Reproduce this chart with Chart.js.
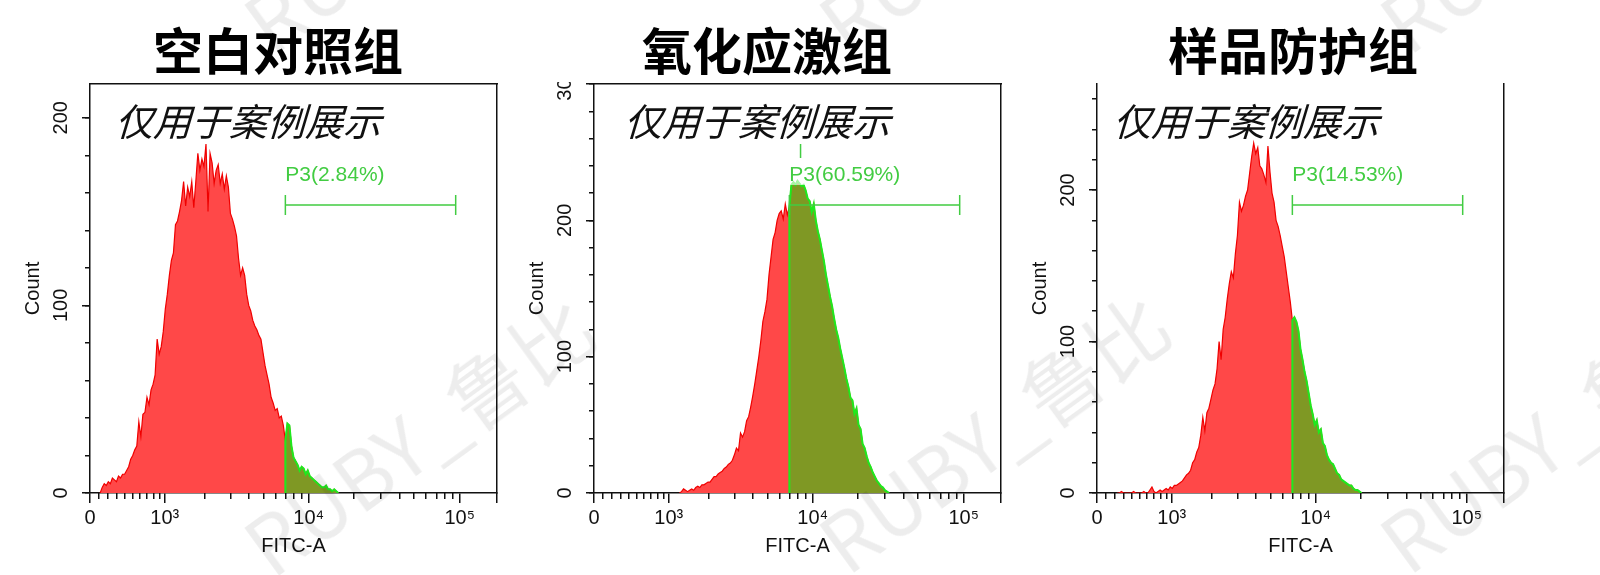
<!DOCTYPE html>
<html>
<head>
<meta charset="utf-8">
<script src="https://cdn.jsdelivr.net/npm/chart.js@4.4.0/dist/chart.umd.min.js"></script>
<style>
  html, body { margin: 0; padding: 0; background: #fff; }
  #stage { position: relative; width: 1600px; height: 575px; overflow: hidden; background: #fff; }
  #stage canvas { position: absolute; top: 0; }
  .wm {
    position: absolute;
    font: 80px/1 "Noto Sans CJK SC", sans-serif;
    color: rgba(0, 0, 0, 0.07);
    transform: rotate(-36deg);
    transform-origin: 0 50%;
    white-space: nowrap;
    pointer-events: none;
  }
</style>
</head>
<body>
<div id="stage">
  <canvas id="c1" width="600" height="575" style="left:0px"></canvas>
  <canvas id="c2" width="600" height="575" style="left:504px"></canvas>
  <canvas id="c3" width="600" height="575" style="left:1007px"></canvas>
  <div class="wm" style="left:252px;top:512px">RUBY_鲁比</div>
  <div class="wm" style="left:827px;top:509px">RUBY_鲁比</div>
  <div class="wm" style="left:1388px;top:509px">RUBY_鲁比</div>
  <div class="wm" style="left:252px;top:-11px">RUBY_鲁比</div>
  <div class="wm" style="left:827px;top:-11px">RUBY_鲁比</div>
  <div class="wm" style="left:1388px;top:-11px">RUBY_鲁比</div>
</div>
<script>
// FITC-A histograms, counts per display channel (200 channels across the axis)
const CHANNELS = 200;
const GATE_START = 96;     // P3 gate, display channels
const GATE_END = 179.7;

const blankStart = 5;
const blankCounts = [
  0, 3, 5, 4, 6, 5, 8, 7, 6, 9, 8, 10, 10, 12, 14, 18, 20, 23, 25, 38,
  30, 42, 43, 51, 47, 55, 58, 63, 82, 74, 78, 86, 98, 106, 116, 124, 128, 143, 145, 150,
  156, 166, 153, 163, 158, 166, 152, 166, 181, 172, 178, 174, 186, 150, 181, 176, 165, 172, 175, 165,
  170, 162, 169, 163, 149, 146, 142, 137, 125, 116, 120, 116, 106, 100, 97, 92, 89, 87, 84, 82,
  75, 68, 63, 58, 51, 48, 44, 45, 40, 41, 36, 28, 37, 36, 25, 19, 17, 15, 12, 14,
  13, 10, 12, 9, 8, 7, 6, 5, 4, 3, 3, 4, 2, 2, 1, 2, 1, 0
];

const oxidStart = 42;
const oxidCounts = [
  0, 1, 3, 2, 1, 2, 3, 2, 4, 5, 4, 6, 6, 7, 8, 8, 10, 12, 12, 14,
  15, 16, 18, 19, 21, 22, 24, 28, 33, 31, 44, 41, 45, 53, 56, 63, 71, 80, 90, 100,
  112, 126, 133, 142, 160, 173, 186, 191, 200, 205, 207, 201, 212, 204, 210, 226, 228, 226, 229, 227,
  225, 226, 222, 216, 214, 206, 212, 200, 192, 186, 178, 170, 160, 152, 144, 137, 128, 120, 114, 106,
  99, 92, 84, 78, 70, 68, 58, 62, 50, 47, 36, 33, 27, 22, 19, 15, 12, 9, 7, 5,
  4, 2, 1, 0
];

const protStart = 10;
const protCounts = [
  0, 0, 1, 0, 0, 0, 0, 0, 1, 0, 0, 0, 0, 1, 0, 0, 2, 4, 1, 0,
  1, 2, 1, 2, 3, 2, 4, 3, 5, 5, 6, 7, 8, 10, 12, 13, 15, 20, 22, 27,
  30, 38, 50, 41, 53, 56, 62, 68, 72, 82, 100, 88, 108, 116, 128, 138, 146, 142, 158, 170,
  192, 186, 190, 196, 200, 211, 222, 231, 224, 228, 216, 214, 210, 205, 229, 212, 198, 192, 180, 176,
  170, 163, 156, 146, 136, 126, 114, 116, 113, 107, 95, 88, 80, 74, 66, 58, 52, 45, 48, 40,
  42, 33, 31, 25, 22, 20, 19, 16, 13, 12, 9, 8, 7, 6, 5, 5, 3, 2, 2, 1, 0
];

const titles = ['空白对照组', '氧化应激组', '样品防护组'];
const gateLabels = ['P3(2.84%)', 'P3(60.59%)', 'P3(14.53%)'];
const countMax = [218, 300, 270];
const countLabelled = [[0, 100, 200], [0, 100, 200, 300], [0, 100, 200]];
const decadeValues = [0, 1e3, 1e4, 1e5];
const decadeLabels = ['0', '10³', '10⁴', '10⁵'];
const minorValues = [
  100, 200, 300, 400, 500, 600, 700, 800, 900,
  2000, 3000, 4000, 5000, 6000, 7000, 8000, 9000,
  20000, 30000, 40000, 50000, 60000, 70000, 80000, 90000
];
const noteText = '仅用于案例展示';

const INK = '#111';
const RED_FILL = '#ff4848';
const RED_LINE = '#f00000';
const GREEN_FILL = 'rgba(0, 232, 0, 0.5)';
const GREEN_LINE = '#1eea1e';
const GATE_COLOR = '#42cc42';

Chart.defaults.font.family = '"Liberation Sans", Arial, sans-serif';
Chart.defaults.color = INK;

// biexponential display transform: intensity -> display channel
function toChannel(v) {
  return 32.22 * Math.asinh(v / 712);
}

function histPoints(start, counts) {
  return counts.map((c, i) => ({x: start + i, y: c}));
}

function gatedPoints(start, counts) {
  const pts = [{x: GATE_START, y: 0}];
  counts.forEach((c, i) => {
    if (start + i >= GATE_START) pts.push({x: start + i, y: c});
  });
  return pts;
}

// note text, gate bracket and label, clipped top y label
const decor = {
  id: 'decor',
  afterDatasetsDraw(chart, args, opts) {
    const {ctx, chartArea: a} = chart;
    const x = chart.scales.x;
    ctx.save();
    ctx.textBaseline = 'middle';
    ctx.textAlign = 'left';
    ctx.fillStyle = INK;
    ctx.font = '38px "Noto Sans CJK SC", sans-serif';
    ctx.translate(a.left + opts.noteX, a.top + 38);
    ctx.transform(1, 0, -0.3, 1, 0, 0);
    ctx.fillText(noteText, 0, 0);
    ctx.restore();

    ctx.save();
    ctx.textBaseline = 'middle';
    ctx.textAlign = 'left';
    const x0 = x.getPixelForValue(GATE_START);
    const x1 = x.getPixelForValue(GATE_END);
    const gy = a.top + 121;
    const ty = a.top + 91;
    ctx.font = '21px "Liberation Sans", Arial, sans-serif';
    const tw = ctx.measureText(opts.label).width;
    ctx.fillStyle = 'rgba(255, 255, 255, 0.6)';
    ctx.fillRect(x0 - 1, ty - 11, tw + 2, 21);
    ctx.fillStyle = GATE_COLOR;
    ctx.fillText(opts.label, x0, ty);

    ctx.strokeStyle = GATE_COLOR;
    ctx.lineWidth = 1.5;
    ctx.beginPath();
    ctx.moveTo(x0, gy); ctx.lineTo(x1, gy);
    ctx.moveTo(x0, gy - 10); ctx.lineTo(x0, gy + 10);
    ctx.moveTo(x1, gy - 10); ctx.lineTo(x1, gy + 10);
    if (opts.marker) {
      const mx = x.getPixelForValue(opts.marker);
      ctx.moveTo(mx, a.top + 60); ctx.lineTo(mx, a.top + 74);
    }
    ctx.stroke();
    ctx.restore();
  },
  afterDraw(chart) {
    const {ctx, chartArea: a} = chart;
    ctx.save();
    ctx.fillStyle = '#fff';
    ctx.fillRect(0, 0, a.left - 9, a.top - 2);
    ctx.restore();
  }
};

const panels = [
  {id: 'c1', start: blankStart, counts: blankCounts, noteX: 29, padRight: 52, rightW: 51, boxTop: true},
  {id: 'c2', start: oxidStart, counts: oxidCounts, noteX: 34, padRight: 82, rightW: 21, boxTop: true, marker: 101.5},
  {id: 'c3', start: protStart, counts: protCounts, noteX: 20, padRight: 36, rightW: 67, boxTop: false}
];

panels.forEach((p, k) => {
  const xMajor = decadeValues.map(toChannel).concat([CHANNELS]);
  const xMajorText = decadeLabels.concat(['']);
  const xMinor = minorValues.map(toChannel);
  const yMinor = [];
  for (let v = 0; v <= countMax[k]; v += 20) yMinor.push(v);

  const scales = {
    x: {
      type: 'linear', position: 'bottom', weight: 1, min: 0, max: CHANNELS,
      afterBuildTicks: s => { s.ticks = xMajor.map(v => ({value: v})); },
      afterFit: s => { s.height = 82; s.paddingLeft = 0; s.paddingRight = 0; },
      ticks: {autoSkip: false, minRotation: 0, maxRotation: 0, padding: 3, font: {size: 20},
              callback: (v, i) => xMajorText[i]},
      grid: {drawOnChartArea: false, tickLength: 10, color: INK, lineWidth: 1.5},
      border: {color: INK, width: 1.5},
      title: {display: true, text: 'FITC-A', font: {size: 20}, padding: {top: 0, bottom: 17}}
    },
    xMinor: {
      type: 'linear', position: 'bottom', weight: 0, min: 0, max: CHANNELS,
      afterBuildTicks: s => { s.ticks = xMinor.map(v => ({value: v})); },
      afterFit: s => { s.height = 0; },
      ticks: {display: false},
      grid: {drawOnChartArea: false, tickLength: 6, color: INK, lineWidth: 1.5},
      border: {display: false}
    },
    y: {
      type: 'linear', position: 'left', weight: 1, min: 0, max: countMax[k],
      afterBuildTicks: s => { s.ticks = countLabelled[k].map(v => ({value: v})); },
      afterFit: s => { s.width = 82; s.paddingTop = 0; s.paddingBottom = 0; },
      ticks: {autoSkip: false, minRotation: 90, maxRotation: 90, crossAlign: 'center', padding: 4,
              font: {size: 20}},
      grid: {drawOnChartArea: false, tickLength: 8, color: INK, lineWidth: 1.5},
      border: {color: INK, width: 1.5},
      title: {display: true, text: 'Count', font: {size: 20}, padding: {top: 13, bottom: 0}}
    },
    yMinor: {
      type: 'linear', position: 'left', weight: 0, min: 0, max: countMax[k],
      afterBuildTicks: s => { s.ticks = yMinor.map(v => ({value: v})); },
      afterFit: s => { s.width = 0; },
      ticks: {display: false},
      grid: {drawOnChartArea: false, tickLength: 5, color: INK, lineWidth: 1.5},
      border: {display: false}
    },
    yRight: {
      type: 'linear', position: 'right', min: 0, max: 1,
      afterFit: s => { s.width = p.rightW; },
      ticks: {display: false},
      grid: {display: false},
      border: {color: INK, width: 1.5}
    }
  };
  if (p.boxTop) {
    scales.xTop = {
      type: 'linear', position: 'top', min: 0, max: 1,
      afterFit: s => { s.height = 0; },
      ticks: {display: false},
      grid: {display: false},
      border: {color: INK, width: 1.5}
    };
  }

  // dataset 0 is drawn last, so the gated overlay comes first
  new Chart(document.getElementById(p.id), {
    type: 'line',
    data: {
      datasets: [
        {
          data: gatedPoints(p.start, p.counts),
          borderColor: GREEN_LINE, backgroundColor: GREEN_FILL, borderWidth: 2,
          fill: 'origin', pointRadius: 0, tension: 0
        },
        {
          data: histPoints(p.start, p.counts),
          borderColor: RED_LINE, backgroundColor: RED_FILL, borderWidth: 1.2,
          fill: 'origin', pointRadius: 0, tension: 0
        }
      ]
    },
    options: {
      responsive: false,
      animation: false,
      events: [],
      layout: {padding: {left: 8, right: p.padRight, top: 0, bottom: 0}, autoPadding: false},
      plugins: {
        legend: {display: false},
        tooltip: {enabled: false},
        title: {
          display: true, text: titles[k], color: '#000',
          font: {family: '"Noto Sans CJK SC", sans-serif', size: 50, weight: 'bold'},
          padding: {top: 21, bottom: 3}
        },
        decor: {noteX: p.noteX, label: gateLabels[k], marker: p.marker}
      },
      scales: scales
    },
    plugins: [decor]
  });
});
</script>
</body>
</html>
